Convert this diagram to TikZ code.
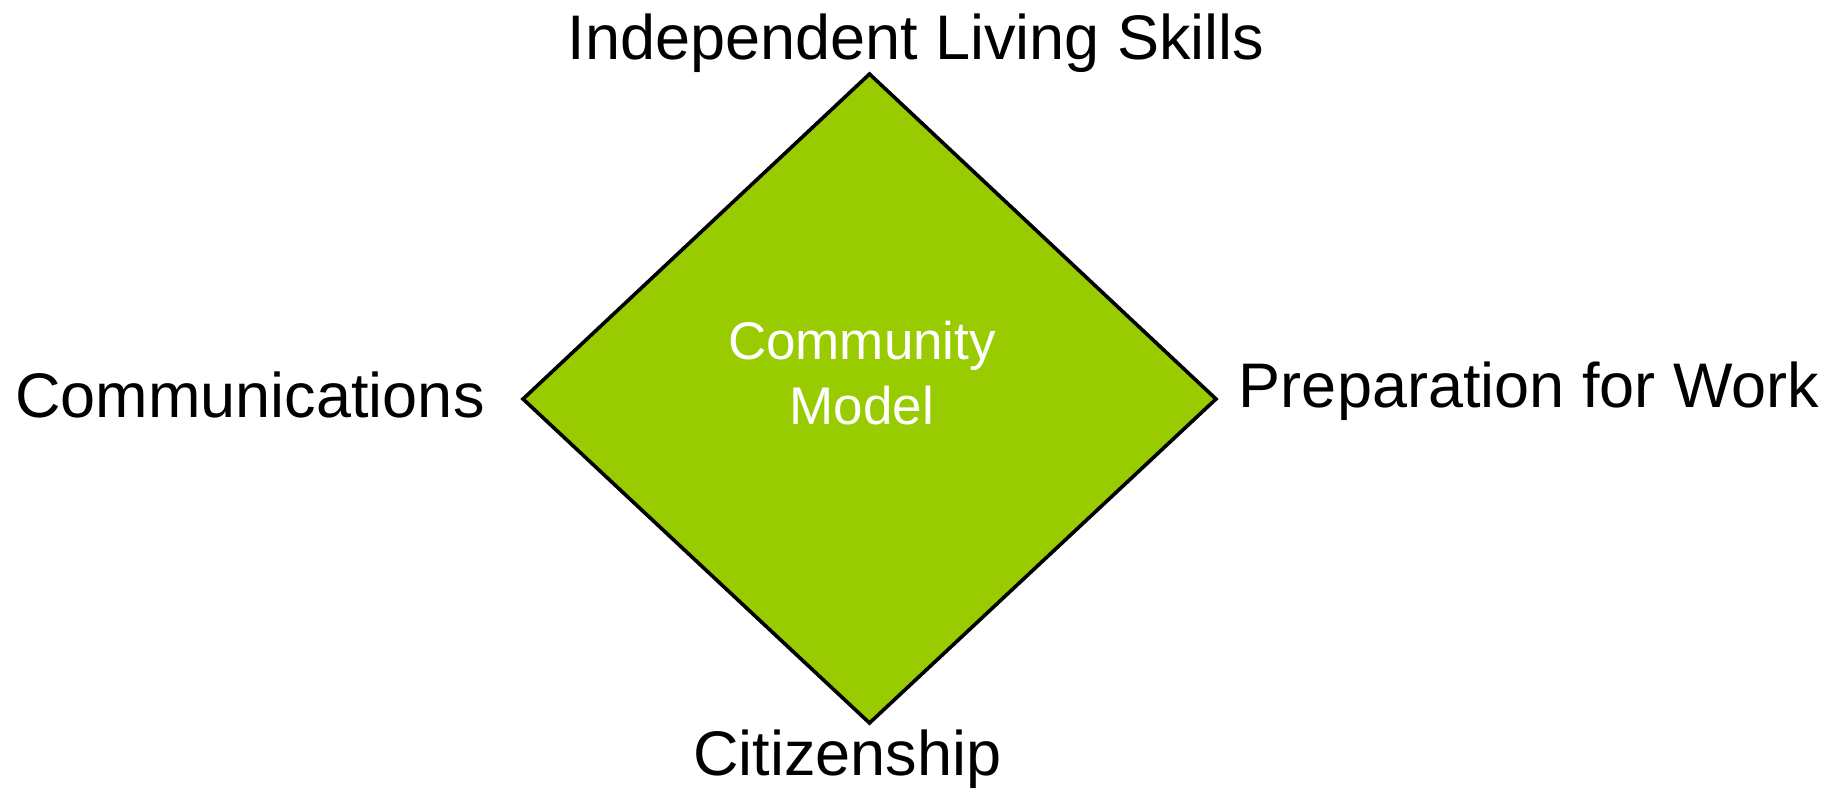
\documentclass[tikz,border=0pt]{standalone}
\usepackage{fontspec}
\setmainfont{Liberation Sans}
\definecolor{leaf}{HTML}{99CC00}
\begin{document}
\begin{tikzpicture}[x=0.5pt,y=-0.5pt,
  outertext/.style={inner sep=0pt,anchor=base,font=\fontsize{31.5}{38}\selectfont,text=black},
  innertext/.style={inner sep=0pt,align=center,font=\fontsize{26.5}{32.5}\selectfont,text=white},
  diamondbox/.style={draw=black,fill=leaf,line width=1.8pt,line join=miter}]
\useasboundingbox (0,0) rectangle (1847,788);
\coordinate (T) at (869.5,74);
\coordinate (R) at (1216,399);
\coordinate (B) at (869.5,723);
\coordinate (L) at (523,399);
\draw[diamondbox] (T) -- (R) -- (B) -- (L) -- cycle;
\node[innertext] (cm) at (862,373) {Community\\Model};
\node[outertext] (ils) at (916,59) {Independent Living Skills};
\node[outertext] (com) at (250,417) {Communications};
\node[outertext] (pfw) at (1529,407) {Preparation for Work};
\node[outertext] (cit) at (847.5,775) {Citizenship};
\end{tikzpicture}
\end{document}
